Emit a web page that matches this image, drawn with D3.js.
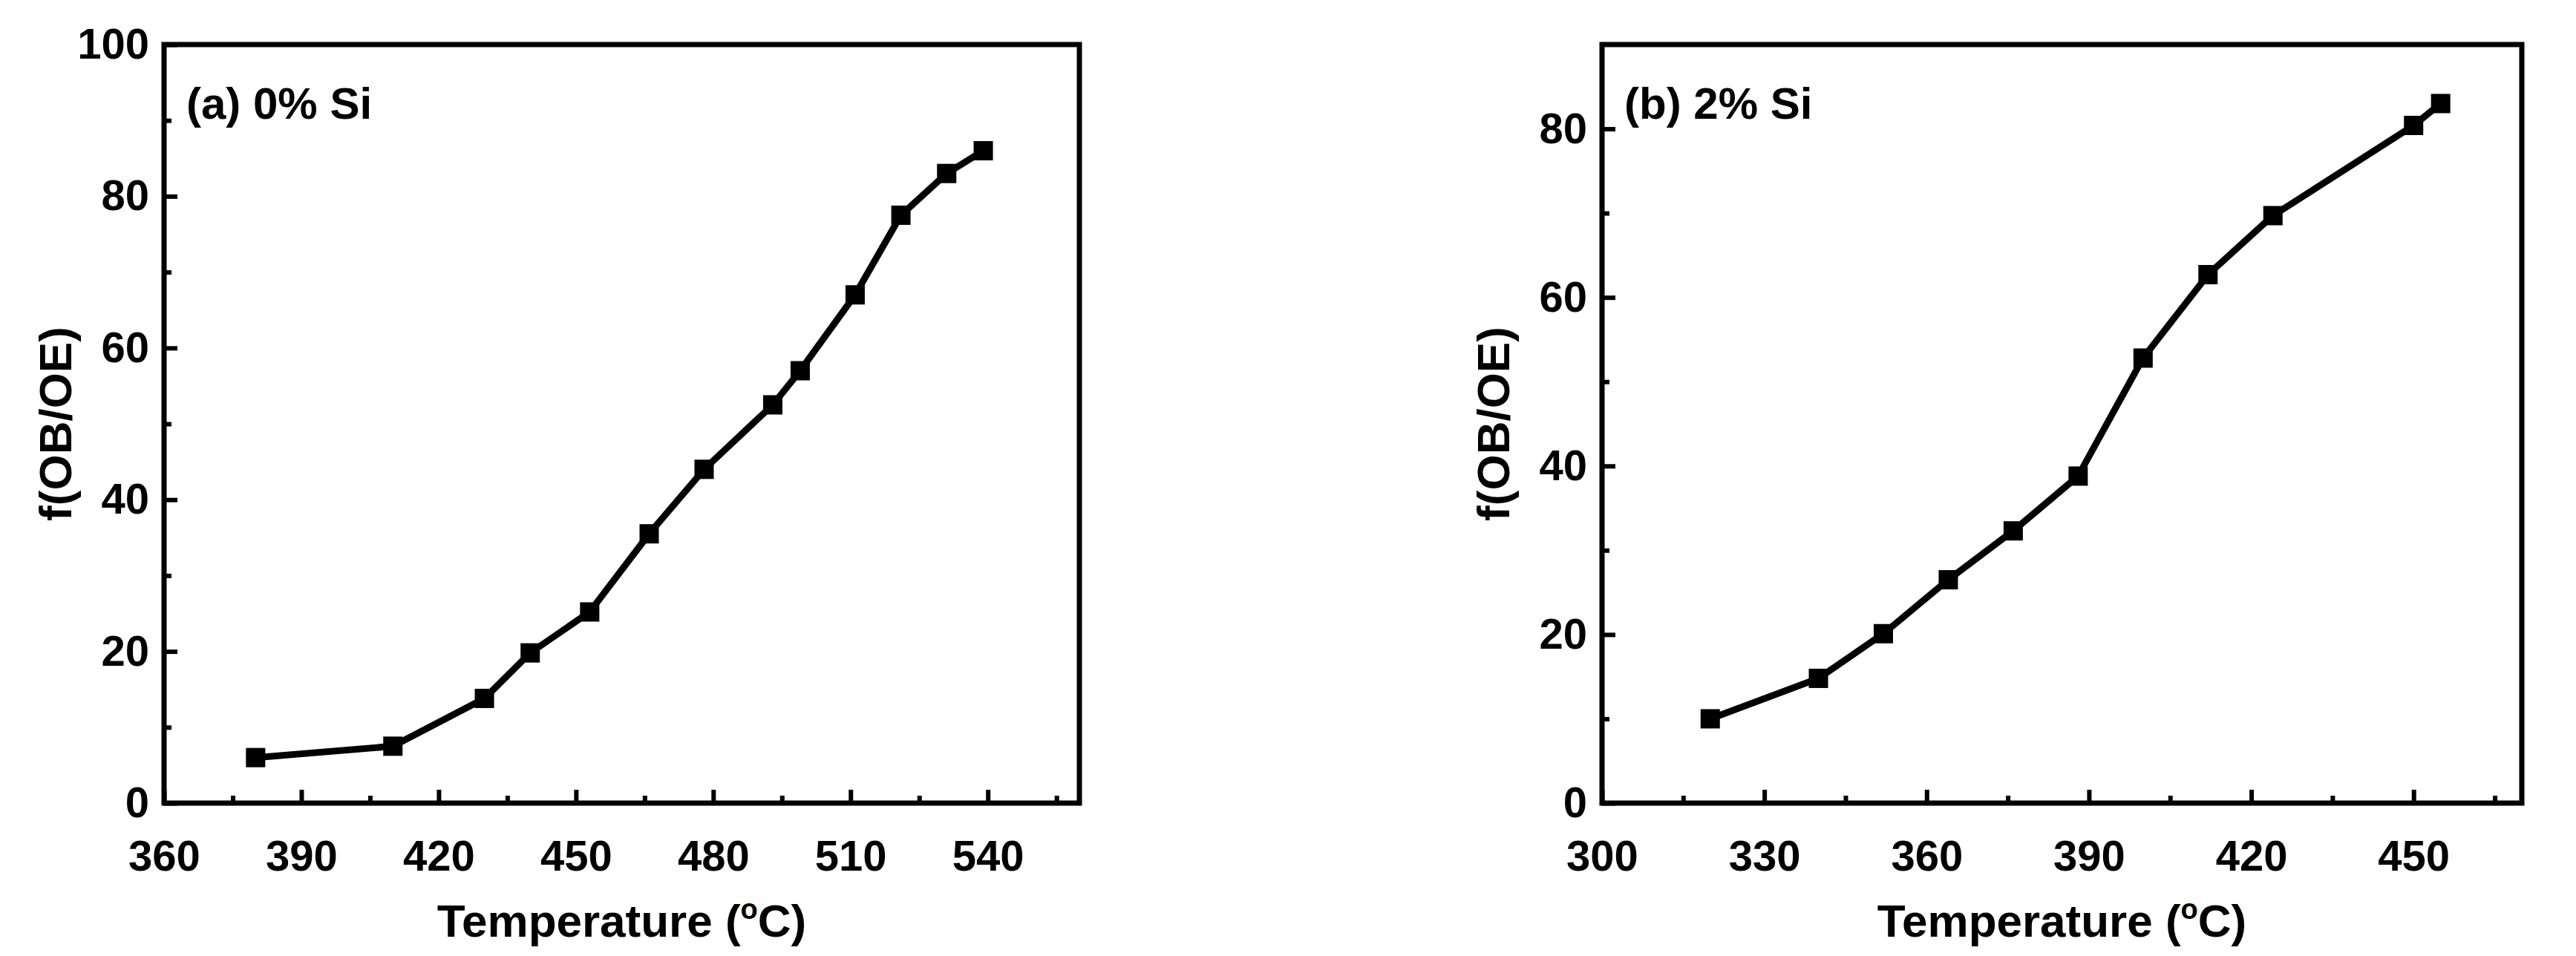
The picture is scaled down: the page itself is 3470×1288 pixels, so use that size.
<!DOCTYPE html><html><head><meta charset="utf-8">
<script src="https://cdn.jsdelivr.net/npm/d3@7"></script>
<style>body{margin:0;background:#fff}text{font-family:"Liberation Sans Narrow","Liberation Sans",Arial,sans-serif;font-weight:bold;fill:#000}</style>
</head><body><svg id="c" width="3470" height="1288"></svg>
<script>
const tempA=[380,410,430,440,453,466,478,493,499,511,521,531,539];
const valA=[6,7.5,13.8,19.8,25.2,35.5,44,52.5,57,67,77.5,83,86];
const tempB=[320,340,352,364,376,388,400,412,424,450,455];
const valB=[10,14.8,20.1,26.5,32.3,38.8,52.8,62.7,69.7,80.4,83];
const ticksXA=[360,390,420,450,480,510,540];
const ticksYA=[0,20,40,60,80,100];
const ticksXB=[300,330,360,390,420,450];
const ticksYB=[0,20,40,60,80];
const svg=d3.select("#c");
function panel(o){
  const g=svg.append("g");
  const x=d3.scaleLinear().domain(o.xd).range([o.l,o.r]);
  const y=d3.scaleLinear().domain(o.yd).range([o.b,o.t]);
  const minorX=d3.range(o.xd[0]+15,o.xd[1]+0.1,30), minorY=d3.range(10,o.yd[1],20);
  g.append("g").attr("transform",`translate(0,${o.b})`).call(d3.axisBottom(x).tickValues(o.tx).tickSize(-18).tickPadding(50));
  g.append("g").attr("transform",`translate(0,${o.b})`).call(d3.axisBottom(x).tickValues(minorX).tickSize(-10).tickFormat(""));
  g.append("g").attr("transform",`translate(${o.l},0)`).call(d3.axisLeft(y).tickValues(o.ty).tickSize(-18).tickPadding(20));
  g.append("g").attr("transform",`translate(${o.l},0)`).call(d3.axisLeft(y).tickValues(minorY).tickSize(-10).tickFormat(""));
  g.selectAll(".domain").remove();
  g.selectAll(".tick line").attr("stroke","#000").attr("stroke-width",6);
  g.selectAll(".tick text").attr("font-size",58);
  g.append("rect").attr("x",o.l).attr("y",o.t).attr("width",o.r-o.l).attr("height",o.b-o.t).attr("fill","none").attr("stroke","#000").attr("stroke-width",7);
  g.append("path").datum(o.xs.map((v,i)=>[v,o.ys[i]])).attr("fill","none").attr("stroke","#000").attr("stroke-width",9)
   .attr("d",d3.line().x(d=>x(d[0])).y(d=>y(d[1])));
  g.selectAll(".m").data(o.xs.map((v,i)=>[v,o.ys[i]])).enter().append("rect")
   .attr("x",d=>x(d[0])-13).attr("y",d=>y(d[1])-13).attr("width",26).attr("height",26).attr("fill","#000");
  g.append("text").attr("x",o.l+30).attr("y",o.t+100).attr("font-size",60).text(o.label);
  const xt=g.append("text").attr("x",(o.l+o.r)/2).attr("y",o.b+180).attr("text-anchor","middle").attr("font-size",62);
  xt.append("tspan").text("Temperature (");
  xt.append("tspan").attr("dy",-24).attr("font-size",38).text("o");
  xt.append("tspan").attr("dy",24).text("C)");
  g.append("text").attr("transform",`translate(${o.l-125},${(o.t+o.b)/2}) rotate(-90)`).attr("text-anchor","middle").attr("font-size",62).text("f(OB/OE)");
}
panel({l:221,r:1454,t:60,b:1082,xd:[360,560],yd:[0,100],tx:ticksXA,ty:ticksYA,xs:tempA,ys:valA,label:"(a) 0% Si"});
panel({l:2158,r:3397,t:60,b:1082,xd:[300,470],yd:[0,90],tx:ticksXB,ty:ticksYB,xs:tempB,ys:valB,label:"(b) 2% Si"});
</script></body></html>
